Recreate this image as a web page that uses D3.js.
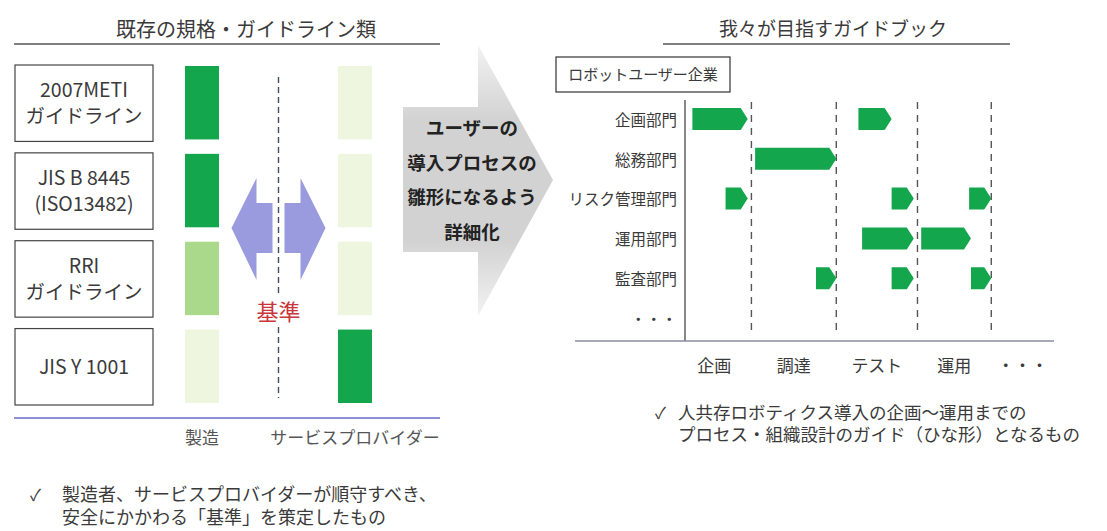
<!DOCTYPE html>
<html>
<head>
<meta charset="utf-8">
<script src="https://cdn.jsdelivr.net/npm/d3@7"></script>
<style>
  body { margin: 0; background: #fff; }
  svg { font-family: "Noto Sans CJK JP", "Noto Sans", sans-serif; }
</style>
</head>
<body>
<svg id="chart" width="1107" height="531"></svg>
<script>
// NOTE: data of the left panel (existing standards)
const standards = ['2007METI\nガイドライン', 'JIS B 8445\n(ISO13482)', 'RRI\nガイドライン', 'JIS Y 1001'];
const roles = ['製造', 'サービスプロバイダー'];
// 2 = covers, 1 = partly, 0 = not
const manufacturerLevel = [2, 2, 1, 0];
const providerLevel = [0, 0, 0, 2];
const leftNote = ['製造者、サービスプロバイダーが順守すべき、', '安全にかかわる「基準」を策定したもの'];

// NOTE: data of the middle arrow
const arrowText = ['ユーザーの', '導入プロセスの', '雛形になるよう', '詳細化'];

// NOTE: data of the right panel (guide book)
const departments = ['企画部門', '総務部門', 'リスク管理部門', '運用部門', '監査部門', '・・・'];
const phases = ['企画', '調達', 'テスト', '運用', '・・・'];
const phaseStarts = [0, 18, 41, 63, 83, 100];
// tasks per department: [start, end] on the same time scale
const tasks = [
  { dept: '企画部門', spans: [[2, 17], [47, 56]] },
  { dept: '総務部門', spans: [[19, 41]] },
  { dept: 'リスク管理部門', spans: [[11, 17], [56, 62], [77, 83]] },
  { dept: '運用部門', spans: [[48, 62], [64, 77.5]] },
  { dept: '監査部門', spans: [[35.5, 41], [56, 62], [77.5, 83]] },
];
const rightNote = ['人共存ロボティクス導入の企画～運用までの', 'プロセス・組織設計のガイド（ひな形）となるもの'];

const textColor = '#3a3a3a';
const green = '#13a64c';
const levelColor = d3.scaleOrdinal().domain([0, 1, 2]).range(['#eef6df', '#abd98c', green]);

const svg = d3.select('#chart');

// ---------- left panel ----------
function drawLeft() {
  const g = svg.append('g');
  const y = d3.scaleBand().domain(standards).range([65, 405]).paddingInner(0.13);
  const x = d3.scalePoint().domain(roles).range([202, 355]);
  const barWidth = 34;

  g.append('text').attr('x', 246).attr('y', 37).attr('text-anchor', 'middle')
    .attr('font-size', 20).attr('fill', textColor).text('既存の規格・ガイドライン類');
  g.append('line').attr('x1', 14).attr('x2', 440).attr('y1', 44).attr('y2', 44)
    .attr('stroke', '#555').attr('stroke-width', 1.5);

  const rows = g.selectAll('.std').data(standards).join('g').attr('class', 'std');
  rows.append('rect')
    .attr('x', 15).attr('y', (d) => y(d)).attr('width', 138).attr('height', y.bandwidth())
    .attr('fill', '#fff').attr('stroke', '#444').attr('stroke-width', 1.2);
  rows.each(function (d) {
    const lines = d.split('\n');
    const t = d3.select(this).append('text').attr('text-anchor', 'middle')
      .attr('font-size', 19.5).attr('fill', textColor);
    const cy = y(d) + y.bandwidth() / 2;
    lines.forEach((l, i) => {
      t.append('tspan').attr('x', 84)
        .attr('y', cy + (i - (lines.length - 1) / 2) * 26 + 7).text(l);
    });
  });

  const cells = [];
  standards.forEach((s, i) => {
    cells.push({ std: s, role: roles[0], level: manufacturerLevel[i] });
    cells.push({ std: s, role: roles[1], level: providerLevel[i] });
  });
  g.selectAll('.cell').data(cells).join('rect').attr('class', 'cell')
    .attr('x', (d) => x(d.role) - barWidth / 2)
    .attr('y', (d) => y(d.std) + 1)
    .attr('width', barWidth)
    .attr('height', y.bandwidth() - 3)
    .attr('fill', (d) => levelColor(d.level));

  // double arrow split by the dashed line
  const cx = (x(roles[0]) + x(roles[1])) / 2;
  const ac = 228;
  const arrow = (s) => [
    [cx - s * 47, ac], [cx - s * 22, ac - 50], [cx - s * 22, ac - 25], [cx - s * 6, ac - 25],
    [cx - s * 6, ac + 25], [cx - s * 22, ac + 25], [cx - s * 22, ac + 52],
  ];
  g.selectAll('.dbl').data([1, -1]).join('path').attr('class', 'dbl')
    .attr('d', (s) => d3.line()(arrow(s)) + 'Z').attr('fill', '#9a9ade');

  g.append('line').attr('x1', cx).attr('x2', cx).attr('y1', 77).attr('y2', 398)
    .attr('stroke', '#3f4d60').attr('stroke-width', 1.4).attr('stroke-dasharray', '6,4');
  g.append('rect').attr('x', cx - 26).attr('y', 293).attr('width', 52).attr('height', 33).attr('fill', '#fff');
  g.append('text').attr('x', cx).attr('y', 320).attr('text-anchor', 'middle')
    .attr('font-size', 22).attr('fill', '#c8353b').text('基準');

  g.append('line').attr('x1', 14).attr('x2', 440).attr('y1', 418).attr('y2', 418)
    .attr('stroke', '#6a6acc').attr('stroke-width', 1.5);
  g.selectAll('.role').data(roles).join('text').attr('class', 'role')
    .attr('x', (d) => x(d)).attr('y', 444).attr('text-anchor', 'middle')
    .attr('font-size', 17).attr('fill', '#555').text((d) => d);

  g.append('text').attr('x', 30).attr('y', 501).attr('font-size', 16).attr('fill', textColor).text('✓');
  g.selectAll('.lnote').data(leftNote).join('text').attr('class', 'lnote')
    .attr('x', 62).attr('y', (d, i) => 501 + i * 23)
    .attr('font-size', 18).attr('fill', textColor).text((d) => d);
}

// ---------- middle arrow ----------
function drawMiddle() {
  const defs = svg.append('defs');
  const grad = defs.append('linearGradient').attr('id', 'grayArrow')
    .attr('x1', 0).attr('y1', 0).attr('x2', 0).attr('y2', 1);
  [[0, '#f2f2f2'], [0.28, '#d2d2d2'], [0.72, '#d2d2d2'], [1, '#f2f2f2']].forEach(([o, c]) => {
    grad.append('stop').attr('offset', o).attr('stop-color', c);
  });
  const pts = [[403, 107], [478, 107], [478, 45], [553, 180], [478, 316], [478, 252], [403, 252]];
  svg.append('path').attr('d', d3.line()(pts) + 'Z').attr('fill', 'url(#grayArrow)');
  svg.append('g').selectAll('text').data(arrowText).join('text')
    .attr('x', 472).attr('y', (d, i) => 135 + i * 34.5).attr('text-anchor', 'middle')
    .attr('font-size', 18.5).attr('font-weight', 'bold').attr('fill', '#222').text((d) => d);
}

// ---------- right panel ----------
function drawRight() {
  const g = svg.append('g');
  const x = d3.scaleLinear().domain([0, 100]).range([685, 1054]);
  const y = d3.scalePoint().domain(departments).range([119, 318]);
  const barHeight = 22;
  const tip = 7;

  g.append('text').attr('x', 833).attr('y', 36).attr('text-anchor', 'middle')
    .attr('font-size', 19).attr('fill', textColor).text('我々が目指すガイドブック');
  g.append('line').attr('x1', 663).attr('x2', 1010).attr('y1', 44).attr('y2', 44)
    .attr('stroke', '#555').attr('stroke-width', 1.5);

  g.append('rect').attr('x', 556).attr('y', 57).attr('width', 174).attr('height', 35)
    .attr('fill', '#fff').attr('stroke', '#333').attr('stroke-width', 1.2);
  g.append('text').attr('x', 643).attr('y', 80).attr('text-anchor', 'middle')
    .attr('font-size', 15).attr('fill', textColor).text('ロボットユーザー企業');

  // phase separators
  g.selectAll('.sep').data(phaseStarts.slice(1, -1)).join('line').attr('class', 'sep')
    .attr('x1', (d) => x(d)).attr('x2', (d) => x(d)).attr('y1', 102).attr('y2', 332)
    .attr('stroke', '#555').attr('stroke-width', 1.4).attr('stroke-dasharray', '7,6');

  // task arrows
  const spans = tasks.flatMap((t) => t.spans.map(([s, e]) => ({ dept: t.dept, s, e })));
  g.selectAll('.task').data(spans).join('path').attr('class', 'task')
    .attr('d', (d) => {
      const x0 = x(d.s), x1 = x(d.e), yc = y(d.dept), h = barHeight / 2;
      return d3.line()([[x0, yc - h], [x1 - tip, yc - h], [x1, yc], [x1 - tip, yc + h], [x0, yc + h]]) + 'Z';
    })
    .attr('fill', green);

  // axes
  const yAxis = g.append('g').attr('transform', `translate(${x(0)},0)`)
    .call(d3.axisLeft(y).tickSize(0).tickPadding(8));
  yAxis.select('.domain').remove();
  yAxis.selectAll('text').attr('font-size', 15.5).attr('fill', textColor)
    .attr('font-family', '"Noto Sans CJK JP", sans-serif').attr('dy', '0.4em');
  g.append('line').attr('x1', x(0)).attr('x2', x(0)).attr('y1', 100).attr('y2', 341)
    .attr('stroke', '#555').attr('stroke-width', 1.4);
  g.append('line').attr('x1', 575).attr('x2', x(100)).attr('y1', 341).attr('y2', 341)
    .attr('stroke', '#8a8aa6').attr('stroke-width', 1.5);

  g.selectAll('.phase').data(phases).join('text').attr('class', 'phase')
    .attr('x', (d, i) => x((phaseStarts[i] + phaseStarts[i + 1]) / 2) - (i === 0 ? 4 : 0))
    .attr('y', 372).attr('text-anchor', 'middle')
    .attr('font-size', 17).attr('fill', textColor).text((d) => d);

  g.append('text').attr('x', 655).attr('y', 419).attr('font-size', 16).attr('fill', textColor).text('✓');
  g.selectAll('.rnote').data(rightNote).join('text').attr('class', 'rnote')
    .attr('x', 678).attr('y', (d, i) => 419 + i * 22)
    .attr('font-size', 17.5).attr('fill', textColor).text((d) => d);
}

drawLeft();
drawMiddle();
drawRight();
</script>
</body>
</html>
